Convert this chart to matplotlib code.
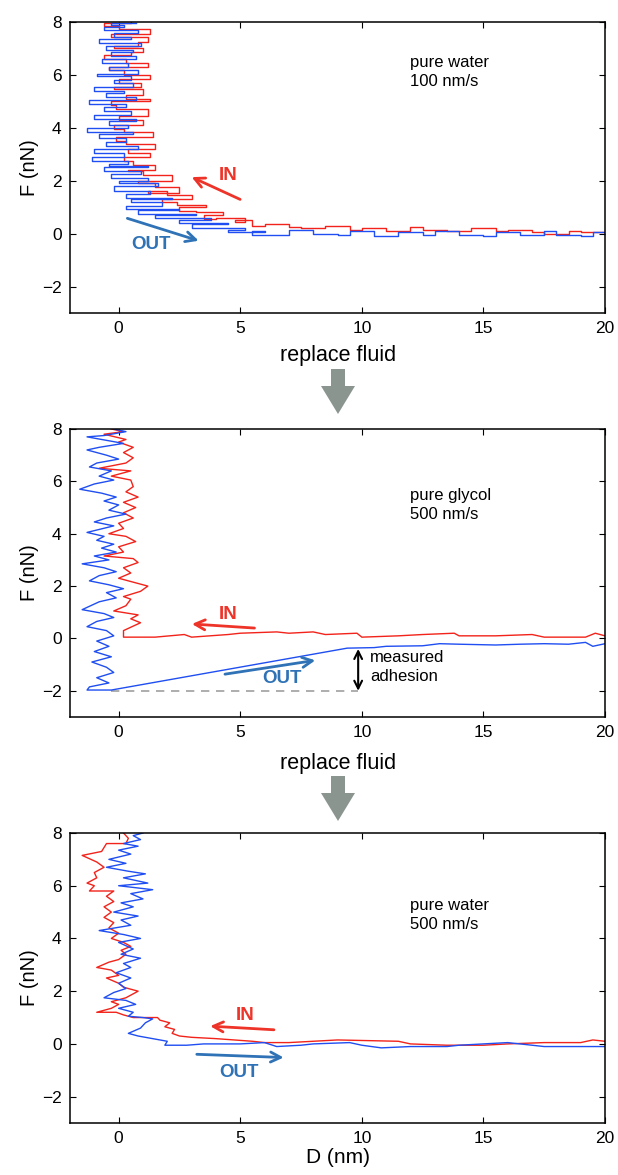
import matplotlib
matplotlib.use("Agg")
import matplotlib.pyplot as plt
from matplotlib.patches import Polygon

plt.rcParams['font.family'] = ['Liberation Sans', 'DejaVu Sans']

# ---- panel 1: pure water, 100 nm/s ----
in1_d = [20.0, 19.0, 18.5, 17.5, 17.0, 16.0, 15.5, 14.5, 13.5, 12.5, 12.0, 11.0, 10.0, 9.5, 8.5, 7.5, 7.0, 6.0,
         5.5, 4.8, 5.2, 4.0, 3.5, 4.3, 3.2, 2.5, 3.6, 2.4, 1.8, 3.0, 2.0, 1.2, 2.5, 1.5, 0.8, 2.2, 1.0, 0.4, 1.5,
         0.6, 0.2, 1.3, 0.4, 1.5, 0.3, -0.1, 1.4, 0.2, -0.2, 1.0, 0.0, 1.2, -0.1, -0.3, 1.3, 0.3, 1.0, -0.2, 0.9,
         0.0, 1.3, 0.2, -0.4, 1.2, 0.3, -0.6, 0.5, 1.0, -0.2, 0.8, 1.2, -0.3, 1.3, 0.0, -0.6, 0.5]
in1_f = [0.05, 0.1, 0.0, 0.05, 0.15, 0.1, 0.2, 0.1, 0.15, 0.25, 0.1, 0.2, 0.15, 0.3, 0.2, 0.25, 0.35, 0.3,
         0.5, 0.45, 0.6, 0.55, 0.7, 0.8, 0.85, 1.0, 1.1, 1.2, 1.3, 1.45, 1.6, 1.55, 1.75, 1.9, 2.0, 2.2, 2.35, 2.4,
         2.6, 2.75, 2.9, 3.05, 3.2, 3.4, 3.5, 3.65, 3.85, 3.95, 4.1, 4.3, 4.45, 4.7, 4.85, 5.0, 5.1, 5.25, 5.45,
         5.55, 5.7, 5.85, 6.0, 6.2, 6.3, 6.45, 6.6, 6.75, 6.85, 7.0, 7.1, 7.25, 7.45, 7.55, 7.75, 7.85, 7.95, 8.0]
out1_d = [0.7, -0.3, 0.2, -0.6, 0.8, -0.2, 0.5, -0.8, 0.9, -0.5, 0.6, -0.3, 0.7, -0.7, 0.4, -0.4, 0.8, -0.9,
          0.5, -0.2, 0.6, -1.0, 0.2, -0.5, 0.7, -1.2, 0.3, -0.6, 0.5, -1.0, 0.7, -0.4, 0.4, -1.3, 0.6, -0.8, 0.3,
          -0.5, 0.8, -1.0, 0.2, -1.1, 0.4, -0.4, 1.2, -0.6, 0.9, -0.3, 1.2, 0.0, 1.6, -0.2, 1.3, 0.3, 2.2, 0.5,
          1.8, 0.3, 2.5, 0.8, 3.2, 1.5, 3.8, 2.5, 4.5, 3.0, 5.2, 4.5, 6.0, 5.5, 7.0, 8.0, 9.0, 9.5, 10.5, 11.5,
          12.5, 13.0, 14.0, 15.0, 15.5, 16.5, 17.5, 18.0, 19.0, 19.5, 20.0]
out1_f = [7.95, 7.9, 7.8, 7.7, 7.6, 7.45, 7.35, 7.2, 7.1, 6.95, 6.85, 6.7, 6.6, 6.45, 6.3, 6.2, 6.05, 5.95,
          5.8, 5.7, 5.55, 5.4, 5.3, 5.15, 5.05, 4.9, 4.8, 4.65, 4.5, 4.35, 4.25, 4.1, 4.0, 3.85, 3.75, 3.6, 3.45,
          3.3, 3.2, 3.05, 2.9, 2.75, 2.65, 2.55, 2.5, 2.35, 2.25, 2.1, 2.0, 1.9, 1.8, 1.6, 1.5, 1.35, 1.3, 1.2,
          1.05, 0.95, 0.9, 0.75, 0.7, 0.6, 0.5, 0.4, 0.35, 0.2, 0.15, 0.05, 0.1, -0.05, 0.15, 0.0, -0.05, 0.1,
          -0.1, 0.05, -0.05, 0.1, -0.05, -0.1, 0.05, -0.05, 0.1, -0.05, -0.1, 0.05, -0.05]

# ---- panel 2: pure glycol, 500 nm/s ----
in2_d = [20.0, 19.6, 19.2, 17.5, 17.0, 15.5, 14.0, 13.8, 12.5, 11.5, 10.0, 9.8, 8.5, 8.0, 7.0, 6.5, 5.0, 4.5,
         3.0, 2.7, 1.5, 0.2, 0.2, 0.9, 0.5, 0.8, -0.2, 0.3, 0.5, 0.2, 0.9, 1.2, 0.8, 0.0, 0.5, 0.2, 0.8, 0.6,
         -0.6, 0.2, 0.0, 0.7, 0.3, -0.4, 0.2, 0.0, 0.6, 0.2, 0.7, 0.2, 0.8, 0.3, 0.6, 0.5, -0.3, 0.5, -0.8, 0.3,
         0.6, 0.2, 0.6, 0.0, 0.3, -0.6, 0.2, -0.3]
in2_f = [0.1, 0.2, 0.05, 0.05, 0.15, 0.1, 0.1, 0.2, 0.15, 0.1, 0.05, 0.2, 0.15, 0.25, 0.2, 0.25, 0.2, 0.15,
         0.05, 0.15, 0.05, 0.05, 0.3, 0.6, 0.75, 0.9, 1.05, 1.25, 1.5, 1.6, 1.8, 2.0, 2.1, 2.3, 2.5, 2.7, 2.9,
         3.05, 3.15, 3.3, 3.5, 3.7, 3.9, 4.0, 4.2, 4.4, 4.6, 4.8, 5.0, 5.2, 5.4, 5.6, 5.8, 6.05, 6.2, 6.4, 6.5,
         6.7, 6.9, 7.1, 7.3, 7.5, 7.6, 7.8, 7.9, 8.0]
out2_d = [-0.2, 0.3, -0.6, -1.3, -0.4, 0.2, -0.8, -1.3, -0.5, 0.0, -0.9, -1.2, -0.3, -0.8, -0.2, -1.0, -1.6,
          -0.7, -0.1, -0.6, 0.0, -0.4, 0.3, -0.5, -1.0, -0.2, -1.3, -0.6, -0.9, -0.2, -0.7, -0.1, -1.0, -0.4,
          -1.5, -0.6, -0.1, -0.8, -1.2, -0.4, 0.2, -0.5, -0.1, -0.8, -1.5, -0.6, -0.2, -0.9, -1.3, -0.5, -0.2,
          -0.9, -0.4, -1.0, -0.3, -1.1, -0.5, -0.2, -0.9, -0.4, -1.2, -1.3, -0.3, 9.4, 10.5, 11.0, 12.5, 13.2,
          14.0, 15.5, 16.5, 17.5, 18.5, 19.2, 19.5, 20.0]
out2_f = [8.0, 7.9, 7.75, 7.7, 7.55, 7.45, 7.3, 7.2, 7.0, 6.85, 6.7, 6.55, 6.4, 6.2, 6.05, 5.9, 5.7, 5.55,
          5.4, 5.25, 5.1, 4.9, 4.75, 4.6, 4.45, 4.3, 4.05, 3.9, 3.75, 3.6, 3.45, 3.3, 3.15, 3.0, 2.85, 2.7, 2.55,
          2.4, 2.2, 2.05, 1.9, 1.75, 1.55, 1.4, 1.1, 0.95, 0.8, 0.65, 0.45, 0.3, 0.1, -0.1, -0.3, -0.5, -0.7,
          -0.9, -1.1, -1.3, -1.5, -1.7, -1.85, -1.97, -1.97, -0.37, -0.35, -0.3, -0.28, -0.2, -0.22, -0.25,
          -0.22, -0.2, -0.22, -0.15, -0.3, -0.2]
adhesion_min = -2.0
adhesion_pull = -0.4

# ---- panel 3: pure water, 500 nm/s ----
in3_d = [20.0, 19.5, 19.0, 17.5, 16.0, 15.0, 13.5, 12.0, 11.5, 9.0, 8.0, 7.0, 6.0, 5.5, 4.0, 3.0, 2.5, 2.2,
         2.3, 1.9, 2.1, 1.7, 1.6, 0.6, 0.2, -0.1, -0.9, -0.3, 0.0, -0.3, 0.3, 0.8, 0.2, 0.0, -0.5, 0.0, -0.3,
         -0.9, -0.4, 0.0, 0.3, 0.1, 0.5, 0.2, -0.3, 0.0, -0.4, -0.2, -0.6, -0.3, -0.6, -0.2, -0.5, -0.2, -1.2,
         -1.0, -1.3, -0.9, -1.0, -0.6, -0.9, -1.5, -0.7, -0.5, 0.3, 0.4, 0.2]
in3_f = [0.1, 0.15, 0.05, 0.05, 0.0, -0.05, -0.05, 0.0, 0.1, 0.15, 0.1, 0.05, 0.05, 0.1, 0.2, 0.25, 0.3, 0.4,
         0.55, 0.65, 0.8, 0.9, 1.0, 1.0, 1.1, 1.2, 1.2, 1.35, 1.5, 1.6, 1.75, 2.0, 2.15, 2.3, 2.5, 2.6, 2.8, 2.9,
         3.1, 3.2, 3.4, 3.55, 3.7, 3.85, 4.0, 4.2, 4.4, 4.6, 4.8, 5.0, 5.2, 5.4, 5.6, 5.8, 5.8, 6.0, 6.1, 6.3,
         6.5, 6.7, 6.9, 7.15, 7.3, 7.6, 7.6, 7.8, 8.0]
out3_d = [1.0, 0.6, 0.9, 0.2, 0.8, 0.0, 0.5, -0.4, 0.3, -0.5, 0.4, 1.1, 0.2, 1.2, 0.0, 1.4, 0.5, 1.0, 0.1,
          0.6, -0.2, 0.8, 0.1, 0.5, -0.8, 0.2, 0.9, 0.0, 0.6, 0.1, 0.9, 0.2, 0.5, -0.1, 0.5, 0.0, 0.3, -0.2,
          -0.6, 0.3, 0.7, 0.0, 0.6, 0.4, 1.0, 1.4, 1.1, 0.9, 0.4, 0.8, 1.4, 2.0, 1.9, 2.8, 3.5, 5.0, 6.0, 6.5,
          7.5, 8.0, 9.5, 10.0, 10.8, 12.0, 13.5, 14.0, 15.0, 16.0, 17.0, 17.5, 19.0, 20.0]
out3_f = [8.0, 7.9, 7.75, 7.6, 7.5, 7.35, 7.2, 7.0, 6.85, 6.7, 6.55, 6.45, 6.3, 6.1, 6.0, 5.85, 5.7, 5.5,
          5.35, 5.2, 5.0, 4.85, 4.7, 4.5, 4.3, 4.15, 4.0, 3.85, 3.6, 3.4, 3.25, 3.05, 2.9, 2.7, 2.5, 2.3, 2.1,
          1.95, 1.75, 1.65, 1.5, 1.35, 1.2, 1.05, 1.0, 0.95, 0.8, 0.6, 0.4, 0.3, 0.2, 0.1, -0.05, -0.05, 0.0,
          0.0, 0.05, -0.1, -0.05, 0.0, 0.05, -0.05, -0.15, -0.1, -0.1, -0.05, 0.0, 0.05, -0.05, -0.1, -0.1, -0.1]

panel_labels = ["pure water\n100 nm/s", "pure glycol\n500 nm/s", "pure water\n500 nm/s"]

RED = '#f2231a'
BLUE = '#1f4ef2'
IN_C = '#ee3328'
OUT_C = '#2f72b6'

fig = plt.figure(figsize=(6.18, 11.75), dpi=100)
W, H = 618.0, 1175.0


def make_ax(top_px, bot_px):
    ax = fig.add_axes([70 / W, 1 - bot_px / H, 535 / W, (bot_px - top_px) / H])
    ax.set_xlim(-2, 20)
    ax.set_ylim(-3, 8)
    ax.set_xticks([0, 5, 10, 15, 20])
    ax.set_yticks([-2, 0, 2, 4, 6, 8])
    ax.set_yticklabels(['\u22122', '0', '2', '4', '6', '8'])
    ax.tick_params(direction='in', top=True, right=True, labelsize=12.5, length=4, width=0.8, pad=6)
    for s in ax.spines.values():
        s.set_linewidth(1.1)
    ax.set_ylabel('F (nN)', fontsize=14.5, labelpad=2)
    return ax


def inout(ax, in_arrow, in_txt, out_arrow, out_txt):
    ax.annotate('', xy=in_arrow[1], xytext=in_arrow[0],
                arrowprops=dict(arrowstyle='->', color=IN_C, lw=2, mutation_scale=18))
    ax.text(in_txt[0], in_txt[1], 'IN', color=IN_C, fontsize=13.5, fontweight='bold', ha='center', va='center')
    ax.annotate('', xy=out_arrow[1], xytext=out_arrow[0],
                arrowprops=dict(arrowstyle='->', color=OUT_C, lw=2, mutation_scale=18))
    ax.text(out_txt[0], out_txt[1], 'OUT', color=OUT_C, fontsize=13.5, fontweight='bold', ha='center', va='center')


def down_arrow(top_px):
    cx = 338
    pts = [(cx - 7, top_px), (cx + 7, top_px), (cx + 7, top_px + 17), (cx + 17, top_px + 17),
           (cx, top_px + 45), (cx - 17, top_px + 17), (cx - 7, top_px + 17)]
    pts = [(x / W, 1 - y / H) for x, y in pts]
    fig.patches.append(Polygon(pts, closed=True, transform=fig.transFigure, facecolor='#8b9590',
                               edgecolor='none'))


# panel 1 (slow approach: flat stick-slip steps)
ax1 = make_ax(22, 313)
ax1.plot(in1_d, in1_f, color=RED, lw=1.0, drawstyle='steps-post')
ax1.plot(out1_d, out1_f, color=BLUE, lw=1.0, drawstyle='steps-post')
ax1.text(12.0, 6.1, panel_labels[0], fontsize=12, va='center', linespacing=1.3)
inout(ax1, [(5.1, 1.25), (2.9, 2.18)], (4.5, 2.2), [(0.25, 0.61), (3.4, -0.3)], (1.35, -0.4))
fig.text(338 / W, 1 - 356 / H, 'replace fluid', fontsize=15.5, ha='center', va='center')
down_arrow(369)

# panel 2
ax2 = make_ax(429, 717)
ax2.plot([-0.3, 9.85], [adhesion_min, adhesion_min], color='#a0a0a0', lw=1.2, ls=(0, (5, 4)))
ax2.plot(in2_d, in2_f, color=RED, lw=1.0)
ax2.plot(out2_d, out2_f, color=BLUE, lw=1.0)
ax2.annotate('', xy=(9.85, adhesion_pull), xytext=(9.85, adhesion_min),
             arrowprops=dict(arrowstyle='<->', color='black', lw=1.5, mutation_scale=14,
                             shrinkA=0, shrinkB=0))
ax2.text(10.35, -1.1, 'measured\nadhesion', fontsize=12, va='center', linespacing=1.3)
ax2.text(12.0, 5.1, panel_labels[1], fontsize=12, va='center', linespacing=1.3)
inout(ax2, [(5.7, 0.39), (2.9, 0.56)], (4.5, 0.92), [(4.26, -1.38), (8.2, -0.82)], (6.7, -1.54))
fig.text(338 / W, 1 - 763 / H, 'replace fluid', fontsize=15.5, ha='center', va='center')
down_arrow(776)

# panel 3
ax3 = make_ax(833, 1123)
ax3.plot(in3_d, in3_f, color=RED, lw=1.0)
ax3.plot(out3_d, out3_f, color=BLUE, lw=1.0)
ax3.text(12.0, 4.9, panel_labels[2], fontsize=12, va='center', linespacing=1.3)
inout(ax3, [(6.5, 0.53), (3.65, 0.68)], (5.2, 1.06), [(3.1, -0.39), (6.9, -0.52)], (4.95, -1.07))
ax3.set_xlabel('D (nm)', fontsize=15, labelpad=1)

fig.savefig('out.png', dpi=100)
